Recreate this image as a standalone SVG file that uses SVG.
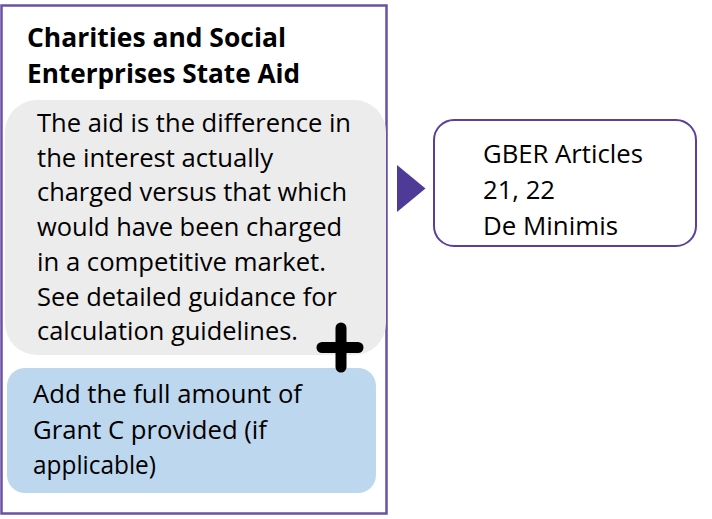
<svg xmlns="http://www.w3.org/2000/svg" width="712" height="519" viewBox="0 0 712 519">
  <style>
    .t { font-family: "Open Sans", "Liberation Sans", sans-serif; font-size: 26px; fill: #000; }
    .title { font-family: "Open Sans", "Liberation Sans", sans-serif; font-size: 27px; font-weight: bold; fill: #000; }
    .frame { fill: #fff; stroke: #6a51a3; stroke-width: 2.5; }
  </style>

  <!-- outer panel -->
  <g id="panel">
    <rect class="frame" x="1.5" y="5.5" width="385" height="508"/>
    <text class="title" x="27" y="47" textLength="259" lengthAdjust="spacingAndGlyphs">Charities and Social</text>
    <text class="title" x="27" y="83" textLength="273" lengthAdjust="spacingAndGlyphs">Enterprises State Aid</text>
  </g>

  <!-- interest difference box -->
  <g id="interest">
    <rect x="5" y="100" width="381" height="255" rx="32" fill="#ececec"/>
    <text class="t" x="37" y="132" textLength="314" lengthAdjust="spacingAndGlyphs">The aid is the difference in</text>
    <text class="t" x="37" y="166.7" textLength="236" lengthAdjust="spacingAndGlyphs">the interest actually</text>
    <text class="t" x="37" y="201.4" textLength="310" lengthAdjust="spacingAndGlyphs">charged versus that which</text>
    <text class="t" x="37" y="236.1" textLength="305" lengthAdjust="spacingAndGlyphs">would have been charged</text>
    <text class="t" x="37" y="270.8" textLength="289" lengthAdjust="spacingAndGlyphs">in a competitive market.</text>
    <text class="t" x="37" y="305.5" textLength="300" lengthAdjust="spacingAndGlyphs">See detailed guidance for</text>
    <text class="t" x="37" y="340.2" textLength="261" lengthAdjust="spacingAndGlyphs">calculation guidelines.</text>
  </g>

  <!-- grant box -->
  <g id="grant">
    <rect x="7" y="368" width="369" height="125" rx="18" fill="#bdd7ee"/>
    <text class="t" x="33" y="403" textLength="269" lengthAdjust="spacingAndGlyphs">Add the full amount of</text>
    <text class="t" x="33" y="439" textLength="234" lengthAdjust="spacingAndGlyphs">Grant C provided (if</text>
    <text class="t" x="33" y="474" textLength="123" lengthAdjust="spacingAndGlyphs">applicable)</text>
  </g>

  <!-- plus sign -->
  <g id="plus" stroke="#000" stroke-width="11" stroke-linecap="round">
    <line x1="341" y1="328" x2="341" y2="367"/>
    <line x1="322" y1="347.5" x2="358" y2="347.5"/>
  </g>

  <!-- GBER box -->
  <g id="gber">
    <rect x="434" y="120" width="262" height="126" rx="20" fill="#fff" stroke="#5b3f9a" stroke-width="2"/>
    <text class="t" x="483" y="163" textLength="160" lengthAdjust="spacingAndGlyphs">GBER Articles</text>
    <text class="t" x="483" y="199" textLength="72" lengthAdjust="spacingAndGlyphs">21, 22</text>
    <text class="t" x="483" y="235" textLength="135" lengthAdjust="spacingAndGlyphs">De Minimis</text>
  </g>

  <!-- connectors -->
  <g id="connectors">
    <polygon points="397,165 425.5,188.5 397,212" fill="#4e3b97"/>
  </g>
</svg>
